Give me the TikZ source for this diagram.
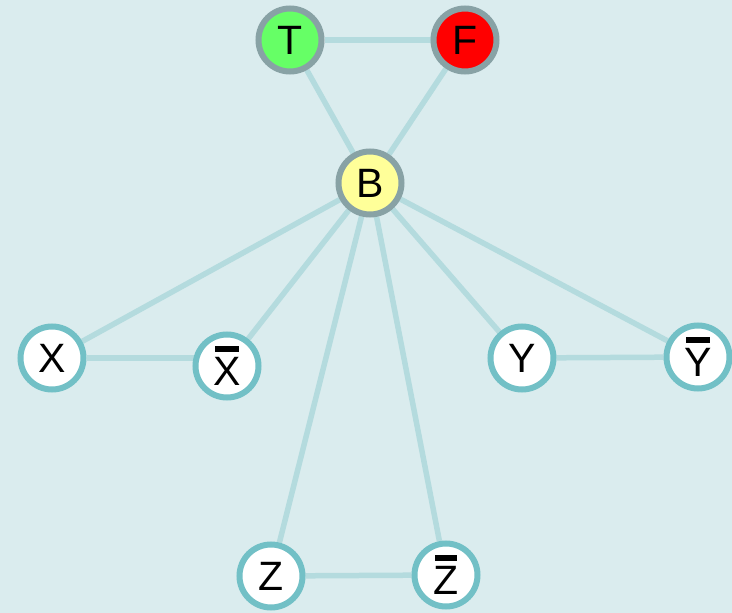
\documentclass[tikz,border=0pt]{standalone}
\usepackage{fontspec}
\setmainfont{Liberation Sans}
\usepackage{tikz}
\usetikzlibrary{positioning}

\definecolor{bgcol}{HTML}{DAECEE}
\definecolor{edgecol}{HTML}{B4DBDE}
\definecolor{varcol}{HTML}{72C0C6}
\definecolor{fixcol}{HTML}{88A2A5}
\definecolor{truecol}{HTML}{66FF66}
\definecolor{falsecol}{HTML}{FF0000}
\definecolor{basecol}{HTML}{FFFF99}

\pgfdeclarelayer{back}
\pgfsetlayers{back,main}

\newcommand{\negated}[1]{\setbox0\hbox{#1}\leavevmode\raise\dimexpr\ht0+0.14em\relax\rlap{\hbox to \wd0{\hfil\rule{0.85\wd0}{0.14em}\hfil}}\box0}

\begin{document}
\begin{tikzpicture}[x=1pt, y=-1pt, font=\fontsize{41}{41}\selectfont,
    lit/.style={shape=circle, draw=varcol, fill=white, line width=6pt, minimum size=63pt, inner sep=0pt},
    fixed/.style={lit, draw=fixcol, fill=#1},
    edge/.style={draw=edgecol, line width=5.5pt}]
  \useasboundingbox (0,0) rectangle (732,613);

  % palette nodes
  \node[fixed=truecol] (T) at (290,40) {T};
  \node[fixed=falsecol] (F) at (465,40) {F};
  \node[fixed=basecol] (B) at (370,183) {B};

  % variable nodes
  \node[lit] (X) at (52,358) {X};
  \node[lit] (nX) at (227,366) {\negated{X}};
  \node[lit] (Y) at (522,358) {Y};
  \node[lit] (nY) at (698,357) {\negated{Y}};
  \node[lit] (Z) at (271,576) {Z};
  \node[lit] (nZ) at (446,575) {\negated{Z}};

  \begin{pgfonlayer}{back}
    \fill[bgcol] (0,0) rectangle (732,613);
    \draw[edge] (T) -- (F);
    \foreach \v in {T,F,X,nX,Y,nY,Z,nZ}
      \draw[edge] (B) -- (\v);
    \draw[edge] (X) -- (X -| nX);
    \foreach \a/\b in {Y/nY, Z/nZ}
      \draw[edge] (\a) -- (\b);
  \end{pgfonlayer}
\end{tikzpicture}
\end{document}
